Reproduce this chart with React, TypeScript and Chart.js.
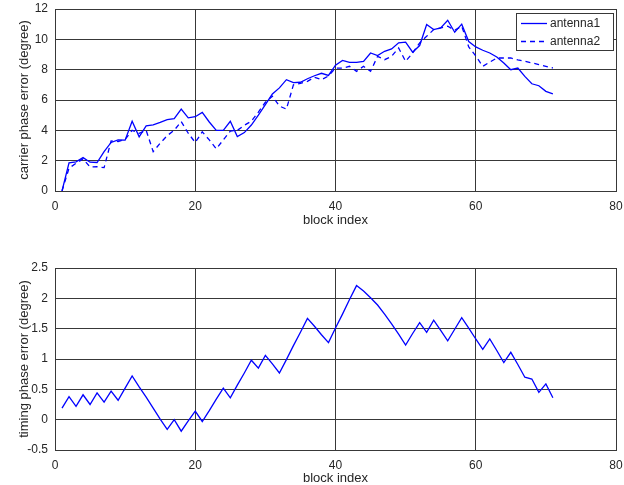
import React, { useEffect, useRef } from "react";
import { Chart, registerables } from "chart.js";

Chart.register(...registerables);

// Block indices shared by both panels
const blockIndex = [
  1, 2, 3, 4, 5, 6, 7, 8, 9, 10, 11, 12, 13, 14, 15, 16, 17, 18, 19, 20,
  21, 22, 23, 24, 25, 26, 27, 28, 29, 30, 31, 32, 33, 34, 35, 36, 37, 38, 39, 40,
  41, 42, 43, 44, 45, 46, 47, 48, 49, 50, 51, 52, 53, 54, 55, 56, 57, 58, 59, 60,
  61, 62, 63, 64, 65, 66, 67, 68, 69, 70, 71,
];

// Carrier phase error (degree), antenna 1
const antenna1 = [
  0, 1.85, 1.92, 2.2, 1.9, 1.88, 2.6, 3.2, 3.37, 3.35,
  4.6, 3.57, 4.3, 4.36, 4.52, 4.7, 4.77, 5.4, 4.82, 4.9,
  5.18, 4.55, 4.0, 4.0, 4.6, 3.59, 3.85, 4.35, 5.0, 5.7,
  6.4, 6.8, 7.34, 7.14, 7.17, 7.4, 7.6, 7.76, 7.62, 8.3,
  8.61, 8.48, 8.48, 8.55, 9.1, 8.93, 9.21, 9.37, 9.77, 9.81,
  9.15, 9.59, 10.98, 10.64, 10.75, 11.26, 10.47, 11.0, 9.85, 9.5,
  9.28, 9.1, 8.84, 8.44, 8.0, 8.11, 7.56, 7.07, 6.94, 6.57,
  6.41,
];

// Carrier phase error (degree), antenna 2
const antenna2 = [
  0, 1.5, 1.83, 2.12, 1.58, 1.6, 1.54, 3.3, 3.26, 3.4,
  4.0, 3.8, 4.0, 2.6, 3.15, 3.65, 4.0, 4.58, 3.81, 3.2,
  3.9, 3.37, 2.78, 3.37, 3.95, 4.0, 4.33, 4.6, 5.2, 5.85,
  6.25, 5.6, 5.4, 7.0, 7.1, 7.23, 7.5, 7.34, 7.58, 8.1,
  8.1, 8.22, 7.89, 8.22, 7.89, 8.88, 8.66, 8.88, 9.43, 8.55,
  9.1, 9.77, 10.2, 10.64, 10.75, 10.86, 10.6, 10.86, 9.5, 8.9,
  8.22, 8.5, 8.77, 8.77, 8.77, 8.65, 8.55, 8.45, 8.33, 8.22,
  8.11,
];

// Timing phase error (degree)
const timingError = [
  0.19, 0.38, 0.22, 0.41, 0.25, 0.44, 0.29, 0.47, 0.32, 0.52,
  0.72, 0.54, 0.37, 0.19, 0.01, -0.16, 0.0, -0.19, -0.02, 0.14,
  -0.03, 0.15, 0.34, 0.52, 0.36, 0.57, 0.77, 0.98, 0.85, 1.06,
  0.92, 0.77, 0.99, 1.22, 1.44, 1.67, 1.54, 1.4, 1.27, 1.51,
  1.74, 1.98, 2.21, 2.12, 2.01, 1.89, 1.74, 1.58, 1.41, 1.23,
  1.42, 1.6, 1.44, 1.64, 1.47, 1.3, 1.49, 1.68, 1.51, 1.33,
  1.16, 1.33, 1.14, 0.94, 1.11, 0.91, 0.7, 0.67, 0.45, 0.59,
  0.36,
];

const xTicks = [0, 20, 40, 60, 80];
const carrierTicks = [0, 2, 4, 6, 8, 10, 12];
const timingTicks = [-0.5, 0, 0.5, 1, 1.5, 2, 2.5];

const seriesNames = ["antenna1", "antenna2"];

const FONT_FAMILY = "'Liberation Sans', Arial, Helvetica, sans-serif";
const TEXT_COLOR = "#262626";
const GRID_COLOR = "#383838";
const LINE_BLUE = "#0000ff";

const toPoints = (ys: number[]) => ys.map((y, i) => ({ x: blockIndex[i], y }));

type PanelOpts = {
  yTicks: number[];
  yTitle: string;
  xAxisHeight: number;
  xTitlePadBottom: number;
};

const tickFont = { family: FONT_FAMILY, size: 12 };
const titleFont = { family: FONT_FAMILY, size: 13, lineHeight: 1 };

function axisOptions(p: PanelOpts) {
  return {
    x: {
      type: "linear" as const,
      min: xTicks[0],
      max: xTicks[xTicks.length - 1],
      afterBuildTicks: (s: any) => {
        s.ticks = xTicks.map((v) => ({ value: v }));
      },
      afterFit: (s: any) => {
        s.height = p.xAxisHeight;
        s.paddingLeft = 0;
        s.paddingRight = 0;
      },
      grid: { color: GRID_COLOR, lineWidth: 1, drawTicks: false },
      border: { color: GRID_COLOR, width: 1 },
      ticks: {
        padding: 8,
        color: TEXT_COLOR,
        font: tickFont,
        maxRotation: 0,
        callback: (v: number) => String(v),
      },
      title: {
        display: true,
        text: "block index",
        color: TEXT_COLOR,
        font: titleFont,
        padding: { top: 0, bottom: p.xTitlePadBottom },
      },
    },
    y: {
      type: "linear" as const,
      min: p.yTicks[0],
      max: p.yTicks[p.yTicks.length - 1],
      afterBuildTicks: (s: any) => {
        s.ticks = p.yTicks.map((v) => ({ value: v }));
      },
      afterFit: (s: any) => {
        s.width = 55;
        s.paddingTop = 0;
        s.paddingBottom = 0;
      },
      grid: { color: GRID_COLOR, lineWidth: 1, drawTicks: false },
      border: { color: GRID_COLOR, width: 1 },
      ticks: {
        padding: 7,
        color: TEXT_COLOR,
        font: tickFont,
        callback: (v: number) => String(v),
      },
      title: {
        display: true,
        text: p.yTitle,
        color: TEXT_COLOR,
        font: { family: FONT_FAMILY, size: 13 },
        padding: { top: 17, bottom: 0 },
      },
    },
  };
}

// Boxed legend in the upper-right corner of the plot area
const boxLegend = {
  id: "boxLegend",
  afterDraw(chart: any) {
    const { ctx, chartArea } = chart;
    const w = 97;
    const h = 37;
    const left = chartArea.right - 3 - w;
    const top = chartArea.top + 3.5;
    ctx.save();
    ctx.fillStyle = "#ffffff";
    ctx.fillRect(left, top, w, h);
    ctx.strokeStyle = GRID_COLOR;
    ctx.lineWidth = 1;
    ctx.strokeRect(Math.round(left) + 0.5, Math.round(top) + 0.5, w, h);
    chart.data.datasets.forEach((ds: any, i: number) => {
      const y = top + 11 + i * 18;
      ctx.beginPath();
      ctx.strokeStyle = ds.borderColor;
      ctx.lineWidth = ds.borderWidth;
      ctx.setLineDash(ds.borderDash || []);
      ctx.moveTo(left + 5, y);
      ctx.lineTo(left + 31, y);
      ctx.stroke();
      ctx.setLineDash([]);
      ctx.fillStyle = TEXT_COLOR;
      ctx.font = `12px ${FONT_FAMILY}`;
      ctx.textBaseline = "middle";
      ctx.textAlign = "left";
      ctx.fillText(ds.label, left + 34, y);
    });
    ctx.restore();
  },
};

export default function App() {
  const topRef = useRef<HTMLCanvasElement>(null);
  const bottomRef = useRef<HTMLCanvasElement>(null);

  useEffect(() => {
    const common = {
      responsive: false,
      animation: false as const,
      devicePixelRatio: 1,
      plugins: { legend: { display: false }, tooltip: { enabled: false } },
      elements: { point: { radius: 0 }, line: { tension: 0 } },
    };

    const top = new Chart(topRef.current!, {
      type: "line",
      data: {
        datasets: [
          {
            label: seriesNames[0],
            data: toPoints(antenna1),
            borderColor: LINE_BLUE,
            borderWidth: 1.3,
            fill: false,
          },
          {
            label: seriesNames[1],
            data: toPoints(antenna2),
            borderColor: LINE_BLUE,
            borderWidth: 1.3,
            borderDash: [5, 4],
            fill: false,
          },
        ],
      },
      options: {
        ...common,
        layout: { padding: { top: 9, right: 8, left: 0, bottom: 0 } },
        scales: axisOptions({
          yTicks: carrierTicks,
          yTitle: "carrier phase error (degree)",
          xAxisHeight: 54,
          xTitlePadBottom: 18,
        }),
      },
      plugins: [boxLegend],
    });

    const bottom = new Chart(bottomRef.current!, {
      type: "line",
      data: {
        datasets: [
          {
            label: "timing",
            data: toPoints(timingError),
            borderColor: LINE_BLUE,
            borderWidth: 1.3,
            fill: false,
          },
        ],
      },
      options: {
        ...common,
        layout: { padding: { top: 23, right: 8, left: 0, bottom: 0 } },
        scales: axisOptions({
          yTicks: timingTicks,
          yTitle: "timing phase error (degree)",
          xAxisHeight: 35,
          xTitlePadBottom: 0,
        }),
      },
    });

    return () => {
      top.destroy();
      bottom.destroy();
    };
  }, []);

  return (
    <div
      style={{
        position: "absolute",
        left: 0,
        top: 0,
        width: 624,
        height: 485,
        background: "#ffffff",
      }}
    >
      <canvas
        ref={topRef}
        width={624}
        height={245}
        style={{ position: "absolute", left: 0, top: 0, width: 624, height: 245 }}
      />
      <canvas
        ref={bottomRef}
        width={624}
        height={240}
        style={{ position: "absolute", left: 0, top: 245, width: 624, height: 240 }}
      />
    </div>
  );
}
